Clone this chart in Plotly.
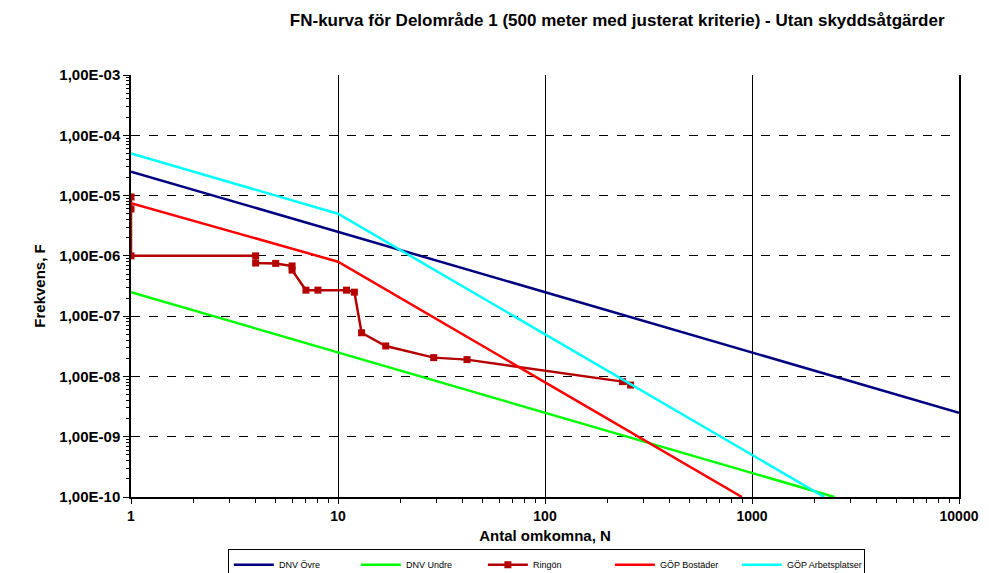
import plotly.graph_objects as go

# ---- data ----
dnv_ovre_N = [1, 10000]
dnv_ovre_F = [2.5e-5, 2.5e-9]

dnv_undre_N = [1, 2500]
dnv_undre_F = [2.5e-7, 1e-10]

ringon_N = [1, 1, 1, 4, 4, 5, 6, 6, 7, 8, 11, 12, 13, 17, 29, 42, 237, 259]
ringon_F = [9.5e-6, 6e-6, 1e-6, 1e-6, 7.6e-7, 7.5e-7, 6.8e-7, 5.8e-7, 2.7e-7, 2.7e-7,
            2.7e-7, 2.5e-7, 5.3e-8, 3.2e-8, 2.05e-8, 1.9e-8, 8.2e-9, 7.2e-9]

gop_bost_N = [1, 10, 894]
gop_bost_F = [7.5e-6, 8e-7, 1e-10]

gop_arb_N = [1, 10, 2236]
gop_arb_F = [5e-5, 5e-6, 1e-10]

y_tickvals = [1e-3, 1e-4, 1e-5, 1e-6, 1e-7, 1e-8, 1e-9, 1e-10]
y_ticktext = ["1,00E-03", "1,00E-04", "1,00E-05", "1,00E-06", "1,00E-07",
              "1,00E-08", "1,00E-09", "1,00E-10"]
x_tickvals = [1, 10, 100, 1000, 10000]
x_ticktext = ["1", "10", "100", "1000", "10000"]

# minor tick positions (2..9 within each decade)
x_minor = [m * 10 ** d for d in range(0, 4) for m in range(2, 10)]
y_minor = [m * 10.0 ** d for d in range(-10, -3) for m in range(2, 10)]

title_text = "FN-kurva för Delområde 1 (500 meter med justerat kriterie) - Utan skyddsåtgärder"

# ---- figure ----
fig = go.Figure()
fig.add_trace(go.Scatter(x=dnv_ovre_N, y=dnv_ovre_F, mode="lines", name="DNV Övre",
                         line=dict(color="#000080", width=2.5)))
fig.add_trace(go.Scatter(x=dnv_undre_N, y=dnv_undre_F, mode="lines", name="DNV Undre",
                         line=dict(color="#00FF00", width=2.5)))
fig.add_trace(go.Scatter(x=ringon_N, y=ringon_F, mode="lines+markers", name="Ringön",
                         line=dict(color="#B40000", width=2.5),
                         marker=dict(symbol="square", size=7, color="#B40000")))
fig.add_trace(go.Scatter(x=gop_bost_N, y=gop_bost_F, mode="lines", name="GÖP Bostäder",
                         line=dict(color="#FF0000", width=2.5)))
fig.add_trace(go.Scatter(x=gop_arb_N, y=gop_arb_F, mode="lines", name="GÖP Arbetsplatser",
                         line=dict(color="#00FFFF", width=2.5)))

FONT = "Arial, Liberation Sans, sans-serif"

fig.update_layout(
    width=981, height=565,
    margin=dict(l=123, r=30, t=67, b=76, autoexpand=False),
    paper_bgcolor="white", plot_bgcolor="white",
    title=dict(text=title_text, x=0.621, xanchor="center", y=0.979, yref="container",
               yanchor="middle",
               font=dict(family=FONT, size=17, color="black", weight="bold")),
    showlegend=True,
    legend=dict(orientation="h", x=0.117, xanchor="left", y=-0.124, yanchor="top",
                bordercolor="black", borderwidth=1, bgcolor="white",
                font=dict(family=FONT, size=9, color="black"),
                itemwidth=40, tracegroupgap=0, entrywidth=72, entrywidthmode="pixels"),
)

fig.update_xaxes(
    type="log", range=[0, 4], automargin=False,
    tickvals=x_tickvals, ticktext=x_ticktext,
    tickfont=dict(family=FONT, size=14, color="black", weight="bold"),
    ticks="outside", ticklen=5, tickcolor="black",
    showgrid=True, gridcolor="black", gridwidth=1,
    showline=True, linecolor="black", linewidth=1.5,
    minor=dict(tickvals=x_minor, ticks="outside", ticklen=4, tickcolor="black",
               showgrid=False),
    zeroline=False,
    title=dict(text="Antal omkomna, N", standoff=8,
               font=dict(family=FONT, size=15, color="black", weight="bold")),
)
fig.update_yaxes(
    type="log", range=[-10, -3], automargin=False,
    tickvals=y_tickvals, ticktext=y_ticktext,
    tickfont=dict(family=FONT, size=15, color="black", weight="bold"),
    ticks="outside", ticklen=6, tickcolor="black",
    showgrid=True, gridcolor="black", gridwidth=1, griddash="dash",
    showline=True, linecolor="black", linewidth=1.5, mirror=True,
    minor=dict(tickvals=y_minor, ticks="outside", ticklen=3, tickcolor="black",
               showgrid=False),
    zeroline=False,
    title=dict(text="Frekvens, F", standoff=10,
               font=dict(family=FONT, size=15, color="black", weight="bold")),
)

fig.write_html("out.html")
